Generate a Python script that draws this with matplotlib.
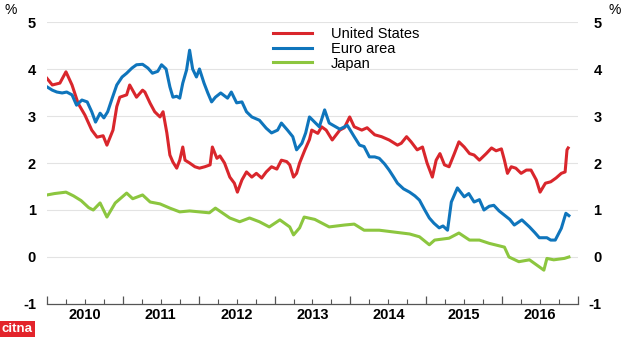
import matplotlib
matplotlib.use("Agg")
import matplotlib.pyplot as plt
from matplotlib.ticker import MultipleLocator

# 10-year government bond yields, %, dates as decimal years
us_t = [2010.00, 2010.07, 2010.17, 2010.25, 2010.33, 2010.41, 2010.50, 2010.59, 2010.66, 2010.74,
        2010.79, 2010.87, 2010.92, 2010.96, 2011.05, 2011.09, 2011.18, 2011.26, 2011.29, 2011.36,
        2011.42, 2011.49, 2011.53, 2011.58, 2011.62, 2011.66, 2011.71, 2011.75, 2011.79, 2011.82,
        2011.88, 2011.95, 2012.01, 2012.08, 2012.15, 2012.18, 2012.24, 2012.28, 2012.34, 2012.41,
        2012.47, 2012.51, 2012.57, 2012.63, 2012.70, 2012.76, 2012.83, 2012.89, 2012.96, 2013.03,
        2013.09, 2013.16, 2013.20, 2013.25, 2013.29, 2013.33, 2013.40, 2013.46, 2013.49, 2013.57,
        2013.62, 2013.68, 2013.76, 2013.86, 2013.92, 2013.99, 2014.05, 2014.15, 2014.22, 2014.32,
        2014.41, 2014.51, 2014.62, 2014.67, 2014.74, 2014.80, 2014.88, 2014.95, 2015.01, 2015.08,
        2015.13, 2015.18, 2015.24, 2015.30, 2015.37, 2015.43, 2015.50, 2015.57, 2015.63, 2015.70,
        2015.79, 2015.86, 2015.92, 2015.99, 2016.03, 2016.07, 2016.12, 2016.18, 2016.25, 2016.32,
        2016.38, 2016.45, 2016.50, 2016.57, 2016.64, 2016.71, 2016.78, 2016.83, 2016.855, 2016.87]
us_v = [3.80, 3.66, 3.70, 3.94, 3.66, 3.27, 3.02, 2.70, 2.55, 2.58,
        2.38, 2.70, 3.20, 3.40, 3.45, 3.66, 3.40, 3.55, 3.51, 3.27,
        3.09, 2.98, 3.09, 2.64, 2.17, 2.02, 1.89, 2.06, 2.34, 2.06,
        2.00, 1.92, 1.89, 1.92, 1.96, 2.34, 2.10, 2.15, 2.00, 1.70,
        1.57, 1.38, 1.64, 1.81, 1.70, 1.78, 1.68, 1.81, 1.92, 1.87,
        2.06, 2.03, 1.96, 1.70, 1.78, 2.00, 2.28, 2.50, 2.70, 2.63,
        2.77, 2.70, 2.49, 2.70, 2.75, 2.98, 2.77, 2.70, 2.75, 2.60,
        2.56, 2.49, 2.38, 2.42, 2.56, 2.45, 2.28, 2.34, 2.00, 1.70,
        2.06, 2.20, 1.96, 1.92, 2.20, 2.45, 2.34, 2.20, 2.17, 2.06,
        2.20, 2.32, 2.26, 2.30, 2.06, 1.78, 1.92, 1.89, 1.78, 1.85,
        1.85, 1.64, 1.38, 1.57, 1.60, 1.68, 1.78, 1.81, 2.28, 2.32]

ea_t = [2010.00, 2010.07, 2010.13, 2010.20, 2010.26, 2010.33, 2010.39, 2010.46, 2010.53, 2010.59,
        2010.64, 2010.70, 2010.75, 2010.80, 2010.86, 2010.92, 2010.99, 2011.05, 2011.12, 2011.18,
        2011.26, 2011.33, 2011.39, 2011.46, 2011.51, 2011.57, 2011.62, 2011.66, 2011.71, 2011.75,
        2011.79, 2011.84, 2011.88, 2011.92, 2011.97, 2012.01, 2012.07, 2012.12, 2012.17, 2012.22,
        2012.29, 2012.38, 2012.43, 2012.50, 2012.57, 2012.63, 2012.70, 2012.80, 2012.89, 2012.96,
        2013.04, 2013.09, 2013.17, 2013.24, 2013.29, 2013.36, 2013.41, 2013.46, 2013.59, 2013.66,
        2013.72, 2013.86, 2013.96, 2014.05, 2014.12, 2014.18, 2014.25, 2014.32, 2014.38, 2014.45,
        2014.51, 2014.57, 2014.62, 2014.70, 2014.78, 2014.85, 2014.91, 2014.98, 2015.04, 2015.10,
        2015.17, 2015.22, 2015.28, 2015.33, 2015.41, 2015.50, 2015.56, 2015.63, 2015.70, 2015.76,
        2015.83, 2015.89, 2015.96, 2016.03, 2016.10, 2016.16, 2016.26, 2016.36, 2016.43, 2016.49,
        2016.59, 2016.64, 2016.70, 2016.78, 2016.84, 2016.88]
ea_v = [3.62, 3.55, 3.51, 3.49, 3.51, 3.45, 3.23, 3.34, 3.30, 3.09,
        2.87, 3.06, 2.96, 3.09, 3.38, 3.66, 3.83, 3.91, 4.02, 4.09,
        4.10, 4.02, 3.91, 3.95, 4.09, 4.00, 3.62, 3.40, 3.42, 3.38,
        3.70, 3.98, 4.40, 4.00, 3.83, 4.00, 3.70, 3.49, 3.30, 3.40,
        3.49, 3.38, 3.51, 3.28, 3.30, 3.09, 2.98, 2.91, 2.74, 2.64,
        2.70, 2.85, 2.70, 2.56, 2.28, 2.42, 2.64, 2.98, 2.77, 3.13,
        2.85, 2.72, 2.80, 2.56, 2.38, 2.35, 2.13, 2.13, 2.10, 1.98,
        1.85, 1.70, 1.57, 1.45, 1.38, 1.30, 1.21, 1.00, 0.83, 0.72,
        0.62, 0.66, 0.57, 1.17, 1.47, 1.28, 1.35, 1.17, 1.22, 1.00,
        1.08, 1.10, 0.98, 0.89, 0.80, 0.68, 0.79, 0.64, 0.52, 0.41,
        0.41, 0.36, 0.36, 0.61, 0.93, 0.88]

jp_t = [2010.00, 2010.10, 2010.25, 2010.35, 2010.45, 2010.55, 2010.61, 2010.70, 2010.79, 2010.90,
        2011.05, 2011.13, 2011.26, 2011.36, 2011.49, 2011.62, 2011.75, 2011.88, 2012.01, 2012.14,
        2012.22, 2012.41, 2012.54, 2012.67, 2012.80, 2012.93, 2013.07, 2013.20, 2013.25, 2013.33,
        2013.39, 2013.53, 2013.72, 2013.92, 2014.05, 2014.18, 2014.38, 2014.58, 2014.78, 2014.91,
        2015.04, 2015.11, 2015.30, 2015.43, 2015.57, 2015.70, 2015.83, 2016.03, 2016.09, 2016.22,
        2016.36, 2016.49, 2016.55, 2016.59, 2016.68, 2016.82, 2016.88]
jp_v = [1.32, 1.35, 1.38, 1.30, 1.20, 1.05, 1.00, 1.15, 0.85, 1.15,
        1.36, 1.24, 1.32, 1.17, 1.13, 1.04, 0.96, 0.98, 0.96, 0.94,
        1.04, 0.83, 0.75, 0.83, 0.75, 0.64, 0.79, 0.64, 0.47, 0.62,
        0.85, 0.80, 0.64, 0.68, 0.70, 0.57, 0.57, 0.53, 0.49, 0.43,
        0.26, 0.36, 0.40, 0.51, 0.36, 0.36, 0.29, 0.21, 0.00, -0.10,
        -0.06, -0.21, -0.28, -0.03, -0.06, -0.03, 0.00]

series_names = ["United States", "Euro area", "Japan"]
colors = ["#d9262c", "#0f75bc", "#8cc63f"]
years = [2010, 2011, 2012, 2013, 2014, 2015, 2016]
yticks = [-1, 0, 1, 2, 3, 4, 5]

plt.rcParams["font.family"] = ["Liberation Sans", "DejaVu Sans"]
plt.rcParams["axes.unicode_minus"] = False

fig = plt.figure(figsize=(6.24, 3.38), dpi=100)
ax = fig.add_axes([0.0753, 0.1006, 0.851, 0.8343])

for t, v, name, c in zip([us_t, ea_t, jp_t], [us_v, ea_v, jp_v], series_names, colors):
    ax.plot(t, v, color=c, lw=2.2, label=name)

ax.set_xlim(2010, 2017)
ax.set_ylim(-1, 5)
ax.set_yticks(yticks)
for y in yticks[1:]:
    ax.axhline(y, color="#e3e3e3", lw=0.8, zorder=0)

for s in ["top", "left", "right"]:
    ax.spines[s].set_visible(False)
ax.spines["bottom"].set_color("#555555")
ax.spines["bottom"].set_linewidth(0.9)

ax.xaxis.set_major_locator(MultipleLocator(1))
ax.xaxis.set_minor_locator(MultipleLocator(0.25))
ax.tick_params(axis="x", which="major", direction="in", length=6, width=0.9,
               color="#555555", labelbottom=False)
ax.tick_params(axis="x", which="minor", direction="in", length=3.5, width=0.8, color="#555555")
for yr in years:
    ax.text(yr + 0.5, -1.08, str(yr), ha="center", va="top", fontsize=10.5,
            fontweight="bold", transform=ax.transData)

ax.tick_params(axis="y", length=0, pad=8, labelsize=10.5)
for lab in ax.get_yticklabels():
    lab.set_fontweight("bold")

ax2 = ax.twinx()
ax2.set_ylim(-1, 5)
ax2.set_yticks(yticks)
for s in ["top", "left", "right", "bottom"]:
    ax2.spines[s].set_visible(False)
ax2.tick_params(axis="y", length=0, pad=17, labelsize=10.5)
for lab in ax2.get_yticklabels():
    lab.set_fontweight("bold")
    lab.set_horizontalalignment("right")

fig.text(0.008, 0.99, "%", fontsize=10, va="top", ha="left")
fig.text(0.995, 0.99, "%", fontsize=10, va="top", ha="right")

ax.legend(loc="upper left", bbox_to_anchor=(0.421, 0.95), bbox_transform=fig.transFigure,
          frameon=False, fontsize=10.5, handlelength=2.7, handletextpad=1.3,
          labelspacing=0.05, borderpad=0.2)

fig.text(0.003, 0.008, "citna", fontsize=9.5, fontweight="bold", color="white",
         ha="left", va="bottom",
         bbox=dict(boxstyle="square,pad=0.15", fc="#e3242b", ec="none"))

fig.savefig("out.png", dpi=100)
